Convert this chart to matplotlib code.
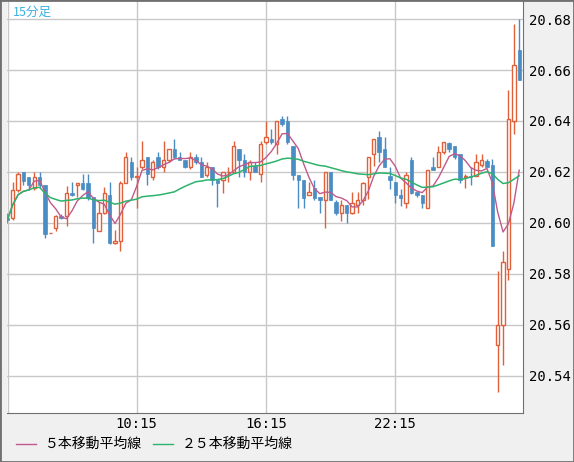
import matplotlib
matplotlib.use("Agg")
import matplotlib.pyplot as plt
import numpy as np
import pandas as pd

# 15分足 OHLC
opens = [20.602, 20.602, 20.613, 20.620, 20.618, 20.6136, 20.618, 20.615, 20.596, 20.598,
         20.6027, 20.6027, 20.6117, 20.615, 20.6157, 20.6157, 20.610, 20.5969, 20.604, 20.611,
         20.592, 20.593, 20.6158, 20.624, 20.618, 20.622, 20.626, 20.618, 20.626, 20.622,
         20.6245, 20.629, 20.6258, 20.6248, 20.6218, 20.6258, 20.6238, 20.6188, 20.6218, 20.617,
         20.6168, 20.6198, 20.620, 20.629, 20.6247, 20.620, 20.6222, 20.619, 20.6316, 20.633,
         20.631, 20.6408, 20.640, 20.630, 20.6188, 20.6168, 20.611, 20.6137, 20.610, 20.609,
         20.620, 20.608, 20.6038, 20.6068, 20.6039, 20.6068, 20.609, 20.6179, 20.627, 20.6338,
         20.629, 20.6182, 20.616, 20.6111, 20.6078, 20.6248, 20.612, 20.611, 20.6058, 20.6221,
         20.6221, 20.628, 20.6313, 20.630, 20.627, 20.618, 20.6185, 20.6182, 20.6228, 20.6241,
         20.6228, 20.552, 20.560, 20.582, 20.640, 20.668]
highs = [20.604, 20.616, 20.620, 20.620, 20.618, 20.620, 20.620, 20.615, 20.596, 20.603,
         20.6035, 20.6145, 20.616, 20.6157, 20.619, 20.619, 20.610, 20.608, 20.614, 20.616,
         20.597, 20.6165, 20.628, 20.626, 20.622, 20.632, 20.626, 20.6245, 20.628, 20.632,
         20.629, 20.633, 20.628, 20.6248, 20.628, 20.627, 20.6258, 20.6238, 20.6218, 20.617,
         20.620, 20.6218, 20.632, 20.629, 20.627, 20.6247, 20.6238, 20.632, 20.640, 20.637,
         20.640, 20.642, 20.642, 20.630, 20.6188, 20.617, 20.616, 20.6168, 20.610, 20.620,
         20.620, 20.609, 20.609, 20.6068, 20.612, 20.612, 20.616, 20.626, 20.633, 20.6362,
         20.6338, 20.622, 20.616, 20.6131, 20.620, 20.626, 20.612, 20.611, 20.6208, 20.626,
         20.630, 20.6318, 20.6318, 20.630, 20.627, 20.619, 20.6218, 20.627, 20.627, 20.625,
         20.625, 20.581, 20.589, 20.652, 20.678, 20.680]
lows = [20.600, 20.601, 20.612, 20.615, 20.613, 20.613, 20.614, 20.594, 20.596, 20.5967,
        20.6015, 20.5988, 20.6105, 20.610, 20.613, 20.609, 20.592, 20.5969, 20.6035, 20.5915,
        20.5915, 20.589, 20.6155, 20.617, 20.606, 20.621, 20.615, 20.617, 20.621, 20.620,
        20.624, 20.625, 20.6245, 20.6215, 20.621, 20.623, 20.6178, 20.618, 20.615, 20.6064,
        20.6117, 20.616, 20.6198, 20.618, 20.618, 20.6168, 20.6198, 20.616, 20.631, 20.631,
        20.627, 20.638, 20.631, 20.617, 20.6058, 20.6058, 20.611, 20.609, 20.604, 20.598,
        20.609, 20.603, 20.6006, 20.600, 20.6035, 20.6039, 20.607, 20.6095, 20.6225, 20.6238,
        20.622, 20.6133, 20.6078, 20.6065, 20.6058, 20.6115, 20.610, 20.6058, 20.6058, 20.6208,
        20.6221, 20.627, 20.628, 20.625, 20.6158, 20.6137, 20.615, 20.6182, 20.6218, 20.6218,
        20.5909, 20.5336, 20.544, 20.5777, 20.635, 20.656]
closes = [20.601, 20.613, 20.619, 20.6165, 20.615, 20.618, 20.615, 20.5956, 20.596, 20.6027,
          20.602, 20.6117, 20.611, 20.6157, 20.6132, 20.6096, 20.598, 20.604, 20.6117, 20.592,
          20.593, 20.6158, 20.626, 20.618, 20.6185, 20.6245, 20.619, 20.624, 20.622, 20.6245,
          20.629, 20.626, 20.6248, 20.6218, 20.6258, 20.6238, 20.618, 20.6218, 20.6168, 20.6155,
          20.6198, 20.620, 20.630, 20.6247, 20.6198, 20.6238, 20.620, 20.631, 20.6336, 20.6316,
          20.6398, 20.6388, 20.6316, 20.6188, 20.6168, 20.6097, 20.612, 20.6097, 20.609, 20.620,
          20.609, 20.6038, 20.6068, 20.6038, 20.6078, 20.609, 20.6157, 20.626, 20.633, 20.628,
          20.622, 20.6169, 20.611, 20.6098, 20.6188, 20.6118, 20.611, 20.6078, 20.6208, 20.6208,
          20.628, 20.6318, 20.629, 20.626, 20.6168, 20.6185, 20.618, 20.6238, 20.6247, 20.6218,
          20.5909, 20.560, 20.5846, 20.6408, 20.662, 20.656]

tick_pos = [24, 48, 72]
tick_labels = ["10:15", "16:15", "22:15"]
y_ticks = [20.54, 20.56, 20.58, 20.60, 20.62, 20.64, 20.66, 20.68]

up_col = "#e0603a"
dn_col = "#4a8cc4"
ma5_col = "#c05a8c"
ma25_col = "#2db36b"
grid_col = "#c8c8c8"
frame_col = "#707070"

o = np.array(opens); h = np.array(highs); l = np.array(lows); c = np.array(closes)
x = np.arange(len(c))
ma5 = pd.Series(c).rolling(5, min_periods=1).mean()
ma25 = pd.Series(c).rolling(25, min_periods=1).mean()

W, H = 574, 462
fig = plt.figure(figsize=(W / 100, H / 100), dpi=100, facecolor="#f0f0f0")
ax = fig.add_axes([7 / W, (H - 413) / H, 516 / W, 413 / H])
ax.set_facecolor("white")

up = c >= o
ax.vlines(x[up], l[up], h[up], color=up_col, lw=1, zorder=2)
ax.vlines(x[~up], l[~up], h[~up], color=dn_col, lw=1, zorder=2)
body = np.maximum(np.abs(c - o), 0.00015)
ax.bar(x[up], body[up], bottom=np.minimum(o, c)[up], width=0.62,
       facecolor="white", edgecolor=up_col, lw=1, zorder=3)
ax.bar(x[~up], body[~up], bottom=np.minimum(o, c)[~up], width=0.62,
       facecolor=dn_col, edgecolor=dn_col, lw=0.5, zorder=3)

ax.plot(x, ma5, color=ma5_col, lw=1, zorder=4)
ax.plot(x, ma25, color=ma25_col, lw=1.1, zorder=4)

ax.set_xlim(-0.05, 95.7)
ax.set_ylim(20.5253, 20.6875)
ax.set_xticks(tick_pos)
ax.set_xticklabels(tick_labels, fontfamily="DejaVu Sans Mono", fontsize=10)
ax.set_yticks(y_ticks)
ax.set_yticklabels([f"{v:.2f}" for v in y_ticks], fontfamily="DejaVu Sans Mono", fontsize=10)
ax.yaxis.tick_right()
ax.tick_params(length=0, pad=4)
ax.tick_params(axis="x", pad=3)
ax.grid(True, color=grid_col, lw=1)
ax.axvline(0.05, color=grid_col, lw=1)
ax.set_axisbelow(True)
for s in ["top", "left"]:
    ax.spines[s].set_visible(False)
for s in ["right", "bottom"]:
    ax.spines[s].set_color(frame_col)

ax.text(0.012, 0.985, "15分足", transform=ax.transAxes, ha="left", va="top",
        color="#3ab0e0", fontsize=9, family=["Noto Sans CJK JP", "DejaVu Sans"])

# 凡例
jp = ["Noto Sans CJK JP", "DejaVu Sans"]
ly = 1 - 444 / H
fig.add_artist(plt.Line2D([16 / W, 36 / W], [ly, ly], color=ma5_col, lw=1))
fig.text(45 / W, ly, "５本移動平均線", va="center", fontsize=10, family=jp)
fig.add_artist(plt.Line2D([153 / W, 173 / W], [ly, ly], color=ma25_col, lw=1))
fig.text(182 / W, ly, "２５本移動平均線", va="center", fontsize=10, family=jp)

fig.add_artist(plt.Rectangle((0, 0), 1, 1, transform=fig.transFigure, fill=False,
                             edgecolor=frame_col, lw=2))

fig.savefig("out.png", dpi=100, facecolor=fig.get_facecolor())
